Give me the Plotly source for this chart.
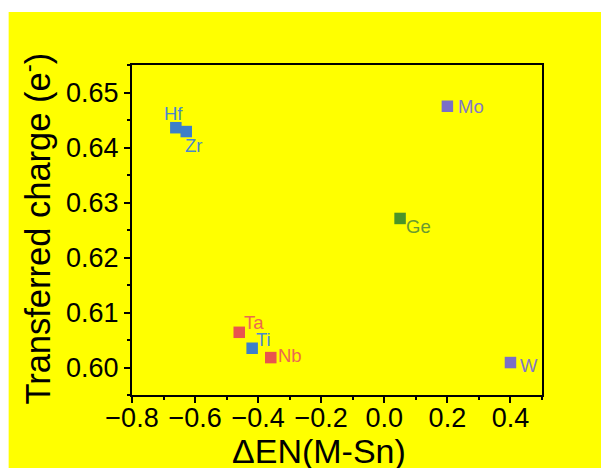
import plotly.graph_objects as go

# Data
elements = ["Hf", "Zr", "Ta", "Ti", "Nb", "Mo", "Ge", "W"]
delta_en = [-0.661, -0.628, -0.460, -0.419, -0.360, 0.200, 0.050, 0.400]
charge = [0.6436, 0.6429, 0.6064, 0.6035, 0.6018, 0.6475, 0.6271, 0.6009]
x_title = "ΔEN(M-Sn)"
y_title = "Transferred charge (e<sup>-</sup>)"

# Styles
BLUE = "#3d7fc8"
RED = "#e8554e"
PURPLE = "#7b6fc6"
GREEN = "#4b9428"
colors = [BLUE, BLUE, RED, BLUE, RED, PURPLE, GREEN, PURPLE]
label_colors = ["#4a88cc", "#4a88cc", "#ec6a50", "#4a88cc", "#ec6a50", "#8378c8", "#6a9a30", "#8378c8"]
# label offsets (px): (xanchor, xshift, yshift)
label_pos = [("center", -2, 14), ("left", -3, -14), ("left", 3, 10), ("left", 2, 9),
             ("left", 5, 2), ("left", 9, 0), ("left", 4, -8), ("left", 8, -3)]

FONT = "Arial, 'Liberation Sans', sans-serif"

fig = go.Figure()
fig.add_trace(go.Scatter(
    x=delta_en, y=charge, mode="markers",
    marker=dict(symbol="square", size=11.5, color=colors, line=dict(width=0)),
    showlegend=False, hoverinfo="skip"))

for el, xv, yv, lc, (anc, xs, ys) in zip(elements, delta_en, charge, label_colors, label_pos):
    fig.add_annotation(x=xv, y=yv, xref="x", yref="y", text=el, showarrow=False,
                       xanchor=anc, yanchor="middle", xshift=xs, yshift=ys,
                       font=dict(family=FONT, size=18.5, color=lc))

L, R, T, B = 131.5, 59, 65, 73
W, H = 601, 468
pw, ph = W - L - R, H - T - B

# axis titles as annotations (pixel placement)
fig.add_annotation(xref="paper", yref="paper", x=(319 - L) / pw, y=-(451 - (H - B)) / ph,
                   text=x_title, showarrow=False, xanchor="center", yanchor="middle",
                   font=dict(family=FONT, size=34, color="black"))
fig.add_annotation(xref="paper", yref="paper", x=(34 - L) / pw, y=1 - (229 - T) / ph,
                   text=y_title, showarrow=False, xanchor="center", yanchor="middle", textangle=-90,
                   font=dict(family=FONT, size=34.5, color="black"))

# white strips (top and left) outside the yellow panel
fig.add_shape(type="rect", xref="paper", yref="paper",
              x0=-L / pw - 0.1, x1=1 + R / pw + 0.1,
              y0=1 + (T - 12) / ph, y1=1 + T / ph + 0.1,
              fillcolor="white", line=dict(width=0), layer="above")
fig.add_shape(type="rect", xref="paper", yref="paper",
              x0=-L / pw - 0.1, x1=-(L - 8) / pw,
              y0=-B / ph - 0.1, y1=1 + T / ph + 0.1,
              fillcolor="white", line=dict(width=0), layer="above")

axis_common = dict(
    showline=True, linecolor="black", linewidth=2, mirror=True,
    ticks="outside", ticklen=6, tickwidth=1.5, tickcolor="black",
    showgrid=False, zeroline=False,
    tickfont=dict(family=FONT, size=27, color="black"),
)

fig.update_xaxes(range=[-0.8, 0.5], dtick=0.2, tick0=-0.8, tickformat=".1f",
                 minor=dict(dtick=0.1, tick0=-0.8, ticks="outside", ticklen=3, tickwidth=1.5, tickcolor="black"),
                 ticklabelstandoff=-8,
                 **axis_common)
fig.update_yaxes(range=[0.595, 0.655], dtick=0.01, tick0=0.6, tickformat=".2f",
                 minor=dict(dtick=0.005, tick0=0.6, ticks="outside", ticklen=3, tickwidth=1.5, tickcolor="black"),
                 **axis_common)

fig.update_layout(
    width=W, height=H,
    margin=dict(l=L, r=R, t=T, b=B, autoexpand=False),
    paper_bgcolor="#ffff00", plot_bgcolor="#ffff00",
)

fig.write_html("out.html")
